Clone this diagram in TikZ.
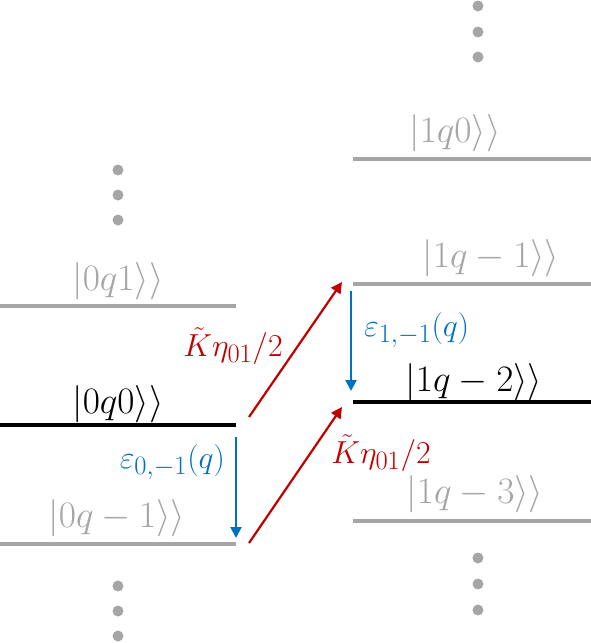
\documentclass[tikz,border=0pt]{standalone}
\usepackage{graphicx}
\usetikzlibrary{arrows.meta}
\definecolor{lvgray}{HTML}{A6A6A6}
\definecolor{arrred}{HTML}{C00000}
\definecolor{arrblue}{HTML}{0070C0}
\newcommand{\biglab}[1]{\scalebox{1.5}{\Huge$#1$}}
\newcommand{\smllab}[1]{\scalebox{1.28}{\Huge$#1$}}
\begin{document}
\begin{tikzpicture}[x=1pt,y=-1pt,
  level/.style={line width=3.5pt},
  lab/.style={inner sep=0pt},
  dotc/.style={fill=lvgray,draw=none},
  redarr/.style={arrred,line width=2.2pt,-{Triangle[width=11pt,length=11pt]}},
  bluearr/.style={arrblue,line width=2.2pt,-{Triangle[width=11pt,length=11pt]}}]
\useasboundingbox (0,0) rectangle (591,643);
% left levels
\coordinate (L1a) at (0,306); \coordinate (L1b) at (236,306);
\coordinate (L0a) at (0,425); \coordinate (L0b) at (236,425);
\coordinate (Lma) at (0,544); \coordinate (Lmb) at (236,544);
\draw[level,lvgray] (L1a) -- (L1b);
\draw[level,black] (L0a) -- (L0b);
\draw[level,lvgray] (Lma) -- (Lmb);
\node[lab,lvgray] (t01) at (118,281) {\biglab{|0q1\rangle\rangle}};
\node[lab,black] (t00) at (118,404) {\biglab{|0q0\rangle\rangle}};
\node[lab,lvgray] (t0m) at (117,518) {\biglab{|0q-1\rangle\rangle}};
% right levels
\coordinate (R0a) at (353,159); \coordinate (R0b) at (591,159);
\coordinate (R1a) at (353,284); \coordinate (R1b) at (591,284);
\coordinate (R2a) at (353,402); \coordinate (R2b) at (591,402);
\coordinate (R3a) at (353,521); \coordinate (R3b) at (591,521);
\draw[level,lvgray] (R0a) -- (R0b);
\draw[level,lvgray] (R1a) -- (R1b);
\draw[level,black] (R2a) -- (R2b);
\draw[level,lvgray] (R3a) -- (R3b);
\node[lab,lvgray] (t10) at (455,133) {\biglab{|1q0\rangle\rangle}};
\node[lab,lvgray] (t11) at (491,258) {\biglab{|1q-1\rangle\rangle}};
\node[lab,black] (t12) at (474,382) {\biglab{|1q-2\rangle\rangle}};
\node[lab,lvgray] (t13) at (475,494) {\biglab{|1q-3\rangle\rangle}};
% dots
\foreach \y in {170,195,220} \fill[dotc] (118,\y) circle (5.5);
\foreach \y in {586,611,636} \fill[dotc] (118,\y) circle (5.5);
\foreach \y in {6,32,57} \fill[dotc] (478,\y) circle (5.5);
\foreach \y in {558,584,610} \fill[dotc] (478,\y) circle (5.5);
% blue arrows
\coordinate (b1s) at (236,437); \coordinate (b1e) at (236,538);
\coordinate (b2s) at (351,291); \coordinate (b2e) at (351,391);
\draw[bluearr] (b1s) -- (b1e);
\draw[bluearr] (b2s) -- (b2e);
\node[lab,arrblue,anchor=east] (e0) at (225,462) {\smllab{\varepsilon_{0,-1}(q)}};
\node[lab,arrblue,anchor=west] (e1) at (364,330) {\smllab{\varepsilon_{1,-1}(q)}};
% red arrows
\coordinate (r1s) at (249,417); \coordinate (r1e) at (342,282);
\coordinate (r2s) at (249,543); \coordinate (r2e) at (342,407);
\draw[redarr] (r1s) -- (r1e);
\draw[redarr] (r2s) -- (r2e);
\node[lab,arrred] (k1) at (233,346) {\smllab{\tilde{K}\eta_{01}/2}};
\node[lab,arrred] (k2) at (381,453) {\smllab{\tilde{K}\eta_{01}/2}};
\end{tikzpicture}
\end{document}
